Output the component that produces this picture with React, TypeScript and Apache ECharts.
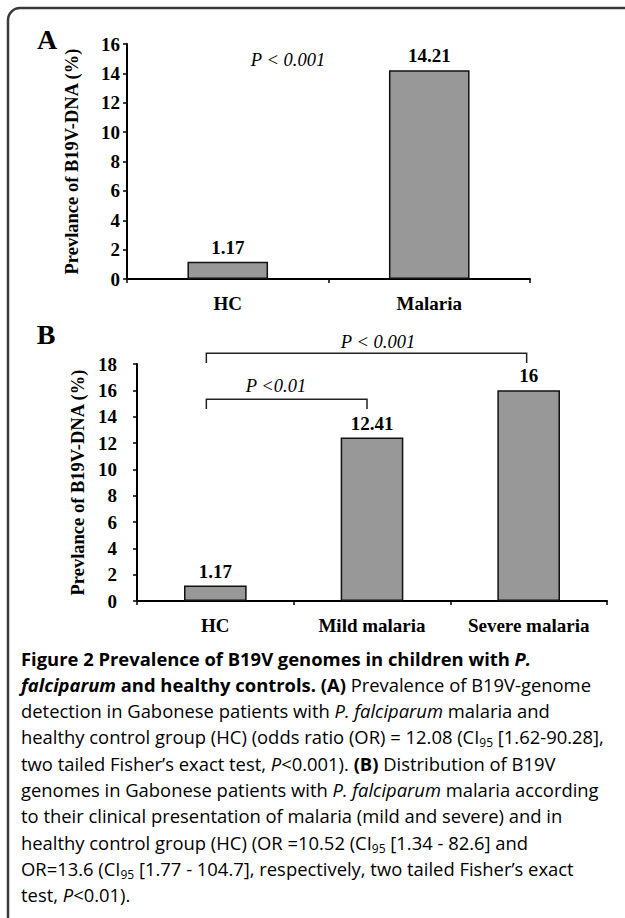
import React, { useEffect, useRef } from "react";
import * as echarts from "echarts";

const categoriesA = ["HC", "Malaria"];
const valuesA = [1.17, 14.21];
const categoriesB = ["HC", "Mild malaria", "Severe malaria"];
const valuesB = [1.17, 12.41, 16];
const yMaxA = 16;
const yMaxB = 18;
const yStep = 2;
const yAxisName = "Prevlance of B19V-DNA (%)";
const pTextA = "P < 0.001";
const pTextB1 = "P < 0.001";
const pTextB2 = "P <0.01";

type Tok = [string, string];
const captionLines: Tok[][] = [
  [["b", "Figure 2 Prevalence of B19V genomes in children with "], ["bi", "P."]],
  [["bi", "falciparum"], ["b", " and healthy controls. (A)"], ["r", " Prevalence of B19V-genome"]],
  [["r", "detection in Gabonese patients with "], ["i", "P. falciparum"], ["r", " malaria and"]],
  [["r", "healthy control group (HC) (odds ratio (OR) = 12.08 (CI"], ["s", "95"], ["r", " [1.62-90.28],"]],
  [["r", "two tailed Fisher’s exact test, "], ["i", "P"], ["r", "<0.001). "], ["b", "(B)"], ["r", " Distribution of B19V"]],
  [["r", "genomes in Gabonese patients with "], ["i", "P. falciparum"], ["r", " malaria according"]],
  [["r", "to their clinical presentation of malaria (mild and severe) and in"]],
  [["r", "healthy control group (HC) (OR =10.52 (CI"], ["s", "95"], ["r", " [1.34 - 82.6] and"]],
  [["r", "OR=13.6 (CI"], ["s", "95"], ["r", " [1.77 - 104.7], respectively, two tailed Fisher’s exact"]],
  [["r", "test, "], ["i", "P"], ["r", "<0.01)."]],
];

const SERIF = '"Liberation Serif", "Times New Roman", serif';
const SANS = '"Open Sans", "Noto Sans", sans-serif';
const CAP_SIZE = 18.4;
const CAP_COLOR = "#2a2a2a";

export default function App() {
  const ref = useRef<HTMLDivElement>(null);
  useEffect(() => {
    if (!ref.current) return;
    const chart = echarts.init(ref.current, undefined, { renderer: "svg" });
    const axisText = { fontFamily: SERIF, fontWeight: "bold" as const, fontSize: 19, color: "#000" };
    const mkX = (gi: number, data: string[]) => ({
      gridIndex: gi,
      type: "category" as const,
      data,
      axisLine: { lineStyle: { color: "#000", width: 2 } },
      axisTick: { show: true, length: 4, lineStyle: { color: "#000", width: 1.5 } },
      axisLabel: { ...axisText, margin: 15, interval: 0, hideOverlap: false },
    });
    const mkY = (gi: number, max: number, margin: number, gap: number) => ({
      gridIndex: gi,
      type: "value" as const,
      min: 0,
      max,
      interval: yStep,
      splitLine: { show: false },
      axisLine: { show: true, lineStyle: { color: "#000", width: 2 } },
      axisTick: { show: true, length: 4, lineStyle: { color: "#000", width: 1.5 } },
      axisLabel: { ...axisText, margin },
      name: yAxisName,
      nameLocation: "middle" as const,
      nameRotate: 90,
      nameGap: gap,
      nameTextStyle: { ...axisText, fontSize: 18.5 },
    });
    const barStyle = {
      type: "bar" as const,
      barWidth: "40%",
      itemStyle: { color: "#989898", borderColor: "#111", borderWidth: 1.5 },
      label: { show: true, position: "top" as const, distance: 5, ...axisText },
    };
    chart.setOption({
      animation: false,
      grid: [
        { left: 127, top: 44, width: 403, height: 235 },
        { left: 137, top: 364, width: 470, height: 237 },
      ],
      xAxis: [mkX(0, categoriesA), mkX(1, categoriesB)],
      yAxis: [mkY(0, yMaxA, 7, 46), mkY(1, yMaxB, 20, 46)],
      series: [
        { ...barStyle, xAxisIndex: 0, yAxisIndex: 0, data: valuesA },
        { ...barStyle, xAxisIndex: 1, yAxisIndex: 1, data: valuesB },
      ],
    });

    const cx = (idx: number, name: string) => chart.convertToPixel({ xAxisIndex: idx }, name) as number;
    const hcB = cx(1, categoriesB[0]);
    const mildB = cx(1, categoriesB[1]);
    const sevB = cx(1, categoriesB[2]);
    const lineStyle = { stroke: "#222", lineWidth: 1.5, fill: "none" };

    const pStyle = { fontFamily: SERIF, fontStyle: "italic" as const, fontSize: 18.5, fill: "#000", align: "center" as const, verticalAlign: "middle" as const };

    const rich = {
      r: { fontFamily: SANS, fontSize: CAP_SIZE, color: CAP_COLOR, lineHeight: 24 },
      b: { fontFamily: SANS, fontSize: CAP_SIZE, color: CAP_COLOR, fontWeight: "bold", lineHeight: 24 },
      i: { fontFamily: SANS, fontSize: CAP_SIZE, color: CAP_COLOR, fontStyle: "italic", lineHeight: 24 },
      bi: { fontFamily: SANS, fontSize: CAP_SIZE, color: CAP_COLOR, fontStyle: "italic", fontWeight: "bold", lineHeight: 24 },
      s: { fontFamily: SANS, fontSize: 12, color: CAP_COLOR, lineHeight: 16, verticalAlign: "bottom" },
    };
    const captionEls = captionLines.map((toks, k) => ({
      type: "text",
      x: 21,
      y: 658 + k * 26.3,
      silent: true,
      style: {
        text: toks.map(([s, t]) => `{${s}|${t}}`).join(""),
        rich,
        verticalAlign: "middle",
        align: "left",
      },
    }));

    chart.setOption({
      graphic: [
        { type: "rect", shape: { x: 8, y: 8, width: 640, height: 935, r: 12 }, style: { fill: "none", stroke: "#3a3a3a", lineWidth: 2.5 }, silent: true },
        { type: "text", x: 47, y: 39, style: { text: "A", fontFamily: SERIF, fontWeight: "bold", fontSize: 28, fill: "#000", align: "center", verticalAlign: "middle" } },
        { type: "text", x: 46, y: 334, style: { text: "B", fontFamily: SERIF, fontWeight: "bold", fontSize: 28, fill: "#000", align: "center", verticalAlign: "middle" } },
        { type: "text", x: 288, y: 60, style: { ...pStyle, text: pTextA } },
        { type: "text", x: 378, y: 342, style: { ...pStyle, text: pTextB1 } },
        { type: "text", x: 276, y: 386, style: { ...pStyle, text: pTextB2 } },
        { type: "polyline", shape: { points: [[hcB - 9, 363], [hcB - 9, 353.3], [sevB - 2, 353.3], [sevB - 2, 363]] }, style: lineStyle, silent: true },
        { type: "polyline", shape: { points: [[hcB - 9, 409], [hcB - 9, 399.3], [mildB - 5, 399.3], [mildB - 5, 409]] }, style: lineStyle, silent: true },
        ...captionEls,
      ],
    });
    return () => chart.dispose();
  }, []);
  return <div ref={ref} style={{ position: "fixed", left: 0, top: 0, width: 625, height: 918, background: "#fff" }} />;
}
